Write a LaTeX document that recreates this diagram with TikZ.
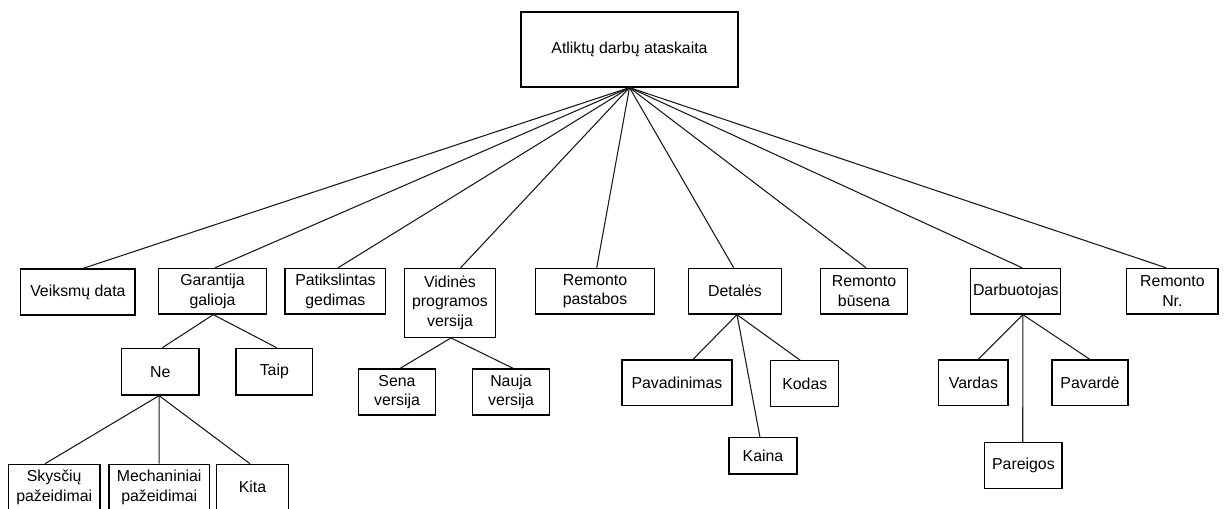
\documentclass[tikz,border=0pt]{standalone}
\usepackage{fontspec}
\setmainfont{Liberation Sans}
\begin{document}
\begin{tikzpicture}[x=0.75pt,y=-0.75pt,
  box/.style 2 args={draw=black, line width=0.9pt, rectangle, inner sep=0pt,
    align=center, minimum width=#1*0.75pt, minimum height=#2*0.75pt,
    font=\fontsize{11.9pt}{14.6pt}\selectfont},
  link/.style={draw=black!90, line width=0.8pt}]
\useasboundingbox (0,0) rectangle (1224,508);
\clip (0,0) rectangle (1224,508);

% top level
\node[box={217}{75}] (root) at (629.5,49.5) {Atliktų darbų ataskaita};

% second level
\node[box={114.3}{46}]   (vd)   at (77.9,292)    {Veiksmų data};
\node[box={108.4}{45.7}] (gg)   at (212.5,291.2) {Garantija\\galioja};
\node[box={100.7}{45.7}] (pg)   at (335.4,291.2) {Patikslintas\\gedimas};
\node[box={91.4}{69}]    (vpv)  at (450,302.8)   {Vidinės\\programos\\versija};
\node[box={118.6}{45.7}] (rp)   at (595,291.2)   {Remonto\\pastabos};
\node[box={92.4}{45.7}]  (det)  at (735,291.2)   {Detalės};
\node[box={86.4}{45.7}]  (rb)   at (864,291.2)   {Remonto\\būsena};
\node[box={90}{45.7}]    (darb) at (1015.8,291.2){Darbuotojas};
\node[box={91.2}{45.7}]  (rnr)  at (1172.4,291.2){Remonto\\Nr.};

% warranty branch
\node[box={77.3}{46.7}]  (ne)   at (160.3,371.7) {Ne};
\node[box={76.7}{46.7}]  (taip) at (274.3,371.7) {Taip};
\node[box={91.7}{46}]    (sky)  at (54.2,487.3)  {Skysčių\\pažeidimai};
\node[box={100.3}{46}]   (mech) at (159.2,487.3) {Mechaniniai\\pažeidimai};
\node[box={71.6}{46}]    (kita) at (252.5,487.3) {Kita};

% firmware branch
\node[box={77.4}{46}]    (sena)  at (397,392) {Sena\\versija};
\node[box={76.6}{46}]    (nauja) at (511,392) {Nauja\\versija};

% parts branch
\node[box={110}{45.7}]   (pav)   at (677,382.9)   {Pavadinimas};
\node[box={68}{46}]      (kodas) at (804.8,383.7) {Kodas};
\node[box={68}{36.3}]    (kaina) at (763,455.8)   {Kaina};

% employee branch
\node[box={69.2}{45.7}]  (vardas)   at (973.4,382.9)  {Vardas};
\node[box={76}{45.7}]    (pavarde)  at (1090,382.9)   {Pavardė};
\node[box={77.2}{45.6}]  (pareigos) at (1023.4,465.5) {Pareigos};

% connectors from the report
\draw[link] (root.south) -- ([xshift=3.8pt]vd.north);
\draw[link] (root.south) -- ([xshift=1.9pt]gg.north);
\draw[link] (root.south) -- ([xshift=2pt]pg.north);
\draw[link] (root.south) -- ([xshift=8pt]vpv.north);
\draw[link] (root.south) -- ([xshift=1.3pt]rp.north);
\draw[link] (root.south) -- ([xshift=-1pt]det.north);
\draw[link] (root.south) -- ([xshift=1.5pt]rb.north);
\draw[link] (root.south) -- ([xshift=4.7pt]darb.north);
\draw[link] (root.south) -- ([xshift=-4.8pt]rnr.north);

% sub-connectors
\draw[link] ([xshift=0.6pt]gg.south) -- ([xshift=1.5pt]ne.north);
\draw[link] ([xshift=0.6pt]gg.south) -- ([xshift=1.8pt]taip.north);

\draw[link] ([xshift=-0.9pt]ne.south) -- ([xshift=-6.9pt]sky.north);
\draw[link] ([xshift=-0.9pt]ne.south) -- (mech.north);
\draw[link] ([xshift=-0.9pt]ne.south) -- ([xshift=-1.9pt]kita.north);

\draw[link] ([xshift=0.75pt]vpv.south) -- ([xshift=2.3pt]sena.north);
\draw[link] ([xshift=0.75pt]vpv.south) -- ([xshift=1.7pt]nauja.north);

\draw[link] ([xshift=1.5pt]det.south) -- ([xshift=11.9pt]pav.north);
\draw[link] ([xshift=1.5pt]det.south) -- ([xshift=-2.3pt]kaina.north);
\draw[link] ([xshift=1.5pt]det.south) -- ([xshift=-3.6pt]kodas.north);

\draw[link] ([xshift=5.3pt]darb.south) -- ([xshift=3.5pt]vardas.north);
\draw[link] ([xshift=5.3pt]darb.south) -- ([xshift=-0.5pt]pareigos.north);
\draw[link] ([xshift=5.3pt]darb.south) -- (pavarde.north);
\end{tikzpicture}
\end{document}
